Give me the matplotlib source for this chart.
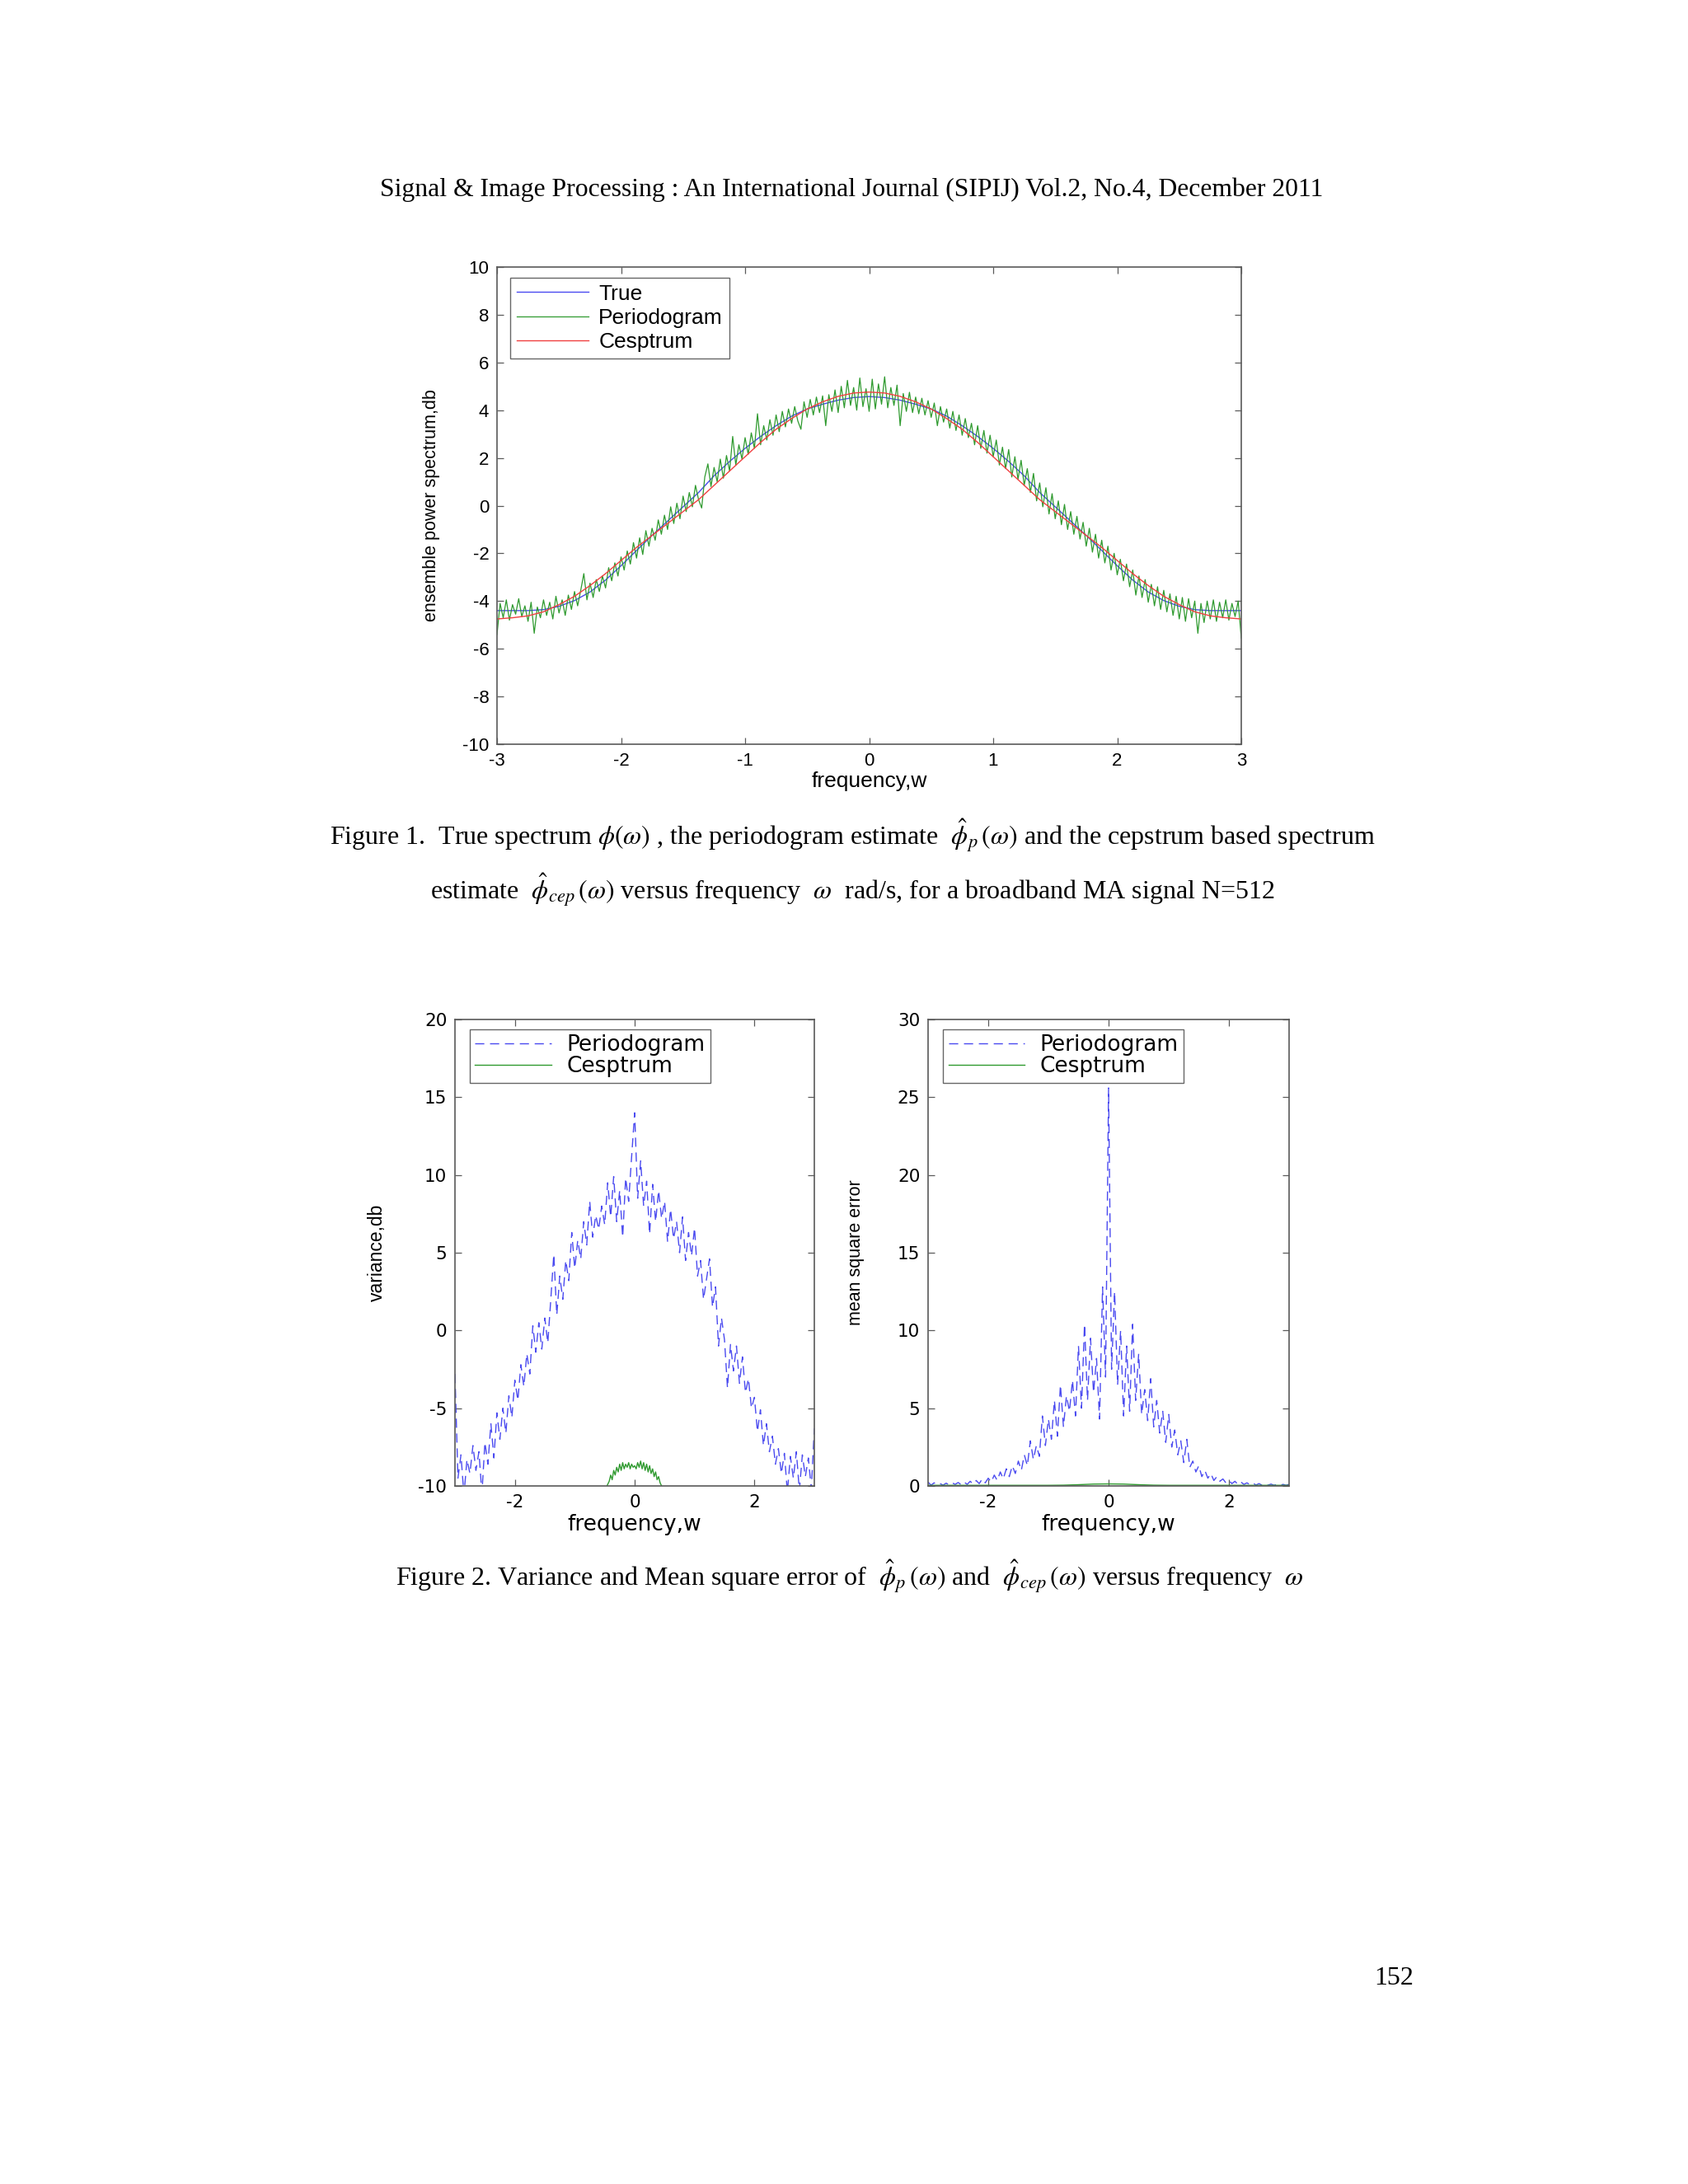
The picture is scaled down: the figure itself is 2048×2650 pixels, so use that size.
import matplotlib
matplotlib.use("Agg")
import matplotlib.pyplot as plt
import numpy as np

plt.rcParams['mathtext.fontset'] = 'stix'
plt.rcParams['axes.unicode_minus'] = False

# ---- Figure 1: ensemble power spectrum ----
w_smooth = np.linspace(-3, 3, 49)
true_db = [-4.40, -4.40, -4.40, -4.36, -4.22, -3.98, -3.62, -3.12, -2.52, -1.88,
           -1.25, -0.65, -0.05, 0.55, 1.25, 1.85, 2.40, 2.90, 3.35, 3.75,
           4.05, 4.25, 4.42, 4.53, 4.57, 4.53, 4.42, 4.25, 4.05, 3.75,
           3.35, 2.90, 2.40, 1.85, 1.25, 0.55, -0.05, -0.65, -1.25, -1.88,
           -2.52, -3.12, -3.62, -3.98, -4.22, -4.36, -4.40, -4.40, -4.40]
cep_db = [-4.75, -4.70, -4.62, -4.45, -4.15, -3.80, -3.35, -2.85, -2.30, -1.75,
          -1.25, -0.75, -0.25, 0.25, 0.85, 1.45, 2.05, 2.65, 3.20, 3.65,
          4.05, 4.35, 4.58, 4.72, 4.76, 4.72, 4.58, 4.35, 4.05, 3.65,
          3.20, 2.65, 2.05, 1.45, 0.85, 0.25, -0.25, -0.75, -1.25, -1.75,
          -2.30, -2.85, -3.35, -3.80, -4.15, -4.45, -4.62, -4.70, -4.75]

w_per = np.linspace(-3, 3, 241)
per_db = [-5.40, -4.10, -4.70, -3.95, -4.80, -4.15, -4.55, -3.90, -4.65, -4.20,
          -4.85, -4.05, -5.35, -4.25, -4.70, -3.95, -4.60, -4.05, -4.75, -3.80,
          -4.50, -3.95, -4.60, -3.75, -4.35, -3.60, -4.20, -3.55, -2.85, -3.95,
          -3.25, -3.85, -3.10, -3.60, -2.95, -3.45, -2.60, -3.15, -2.40, -2.95,
          -2.15, -2.70, -1.90, -2.45, -1.55, -2.20, -1.35, -2.05, -1.05, -1.70,
          -0.95, -1.45, -0.60, -1.20, -0.40, -1.00, -0.05, -0.75, 0.10, -0.55,
          0.40, -0.25, 0.55, -0.05, 0.85, 0.25, -0.10, 1.20, 1.75, 0.80,
          1.60, 1.00, 1.95, 1.15, 2.10, 1.45, 2.90, 1.70, 2.55, 1.95,
          2.85, 2.15, 3.05, 2.40, 3.85, 2.55, 3.35, 2.75, 3.60, 2.95,
          3.80, 3.10, 3.95, 3.30, 4.05, 3.45, 4.15, 3.55, 3.20, 4.35,
          3.70, 4.45, 3.80, 4.55, 3.90, 4.60, 3.35, 4.65, 3.95, 4.85,
          3.90, 5.00, 4.10, 5.25, 4.20, 4.95, 4.00, 5.35, 4.15, 4.90,
          3.95, 5.30, 4.05, 5.10, 4.25, 5.40, 4.10, 4.95, 4.20, 5.05,
          3.35, 4.70, 3.95, 4.75, 3.90, 4.55, 3.85, 4.50, 3.80, 4.40,
          3.70, 4.30, 3.35, 4.15, 3.50, 4.05, 3.25, 3.95, 3.15, 3.80,
          2.95, 3.65, 2.85, 3.45, 2.55, 3.35, 2.40, 3.15, 2.20, 2.95,
          2.05, 2.75, 1.70, 2.45, 1.55, 2.35, 1.20, 2.05, 1.10, 1.90,
          0.85, 1.55, 0.55, 1.35, 0.20, 0.95, -0.05, 0.75, -0.35, 0.50,
          -0.55, 0.20, -0.80, 0.05, -1.00, -0.25, -1.20, -0.45, -1.40, -0.70,
          -1.70, -0.95, -1.95, -1.20, -2.20, -1.45, -2.40, -1.70, -2.70, -2.00,
          -2.90, -2.25, -3.15, -2.45, -3.40, -2.70, -3.75, -2.95, -3.85, -3.10,
          -4.05, -3.30, -4.20, -3.40, -4.35, -3.55, -4.45, -3.70, -4.60, -3.80,
          -4.75, -3.85, -4.85, -3.90, -4.70, -4.00, -5.35, -4.10, -4.90, -4.00,
          -4.75, -3.95, -4.85, -4.05, -4.70, -3.95, -4.80, -4.10, -4.65, -4.00,
          -5.55]

# ---- Figure 2: variance and mean square error ----
w_fine = np.linspace(-3, 3, 121)
var_per = [-2.8, -9.5, -8.0, -10.6, -8.3, -9.2, -7.4, -9.0, -7.8, -10.5,
           -7.2, -8.6, -6.0, -8.2, -5.3, -7.0, -5.0, -6.6, -4.2, -5.6,
           -3.2, -4.5, -2.2, -3.6, -1.5, -2.8, 0.3, -1.4, 0.5, -1.2,
           0.8, -0.8, 2.0, 4.9, 1.0, 3.5, 2.0, 4.5, 3.2, 6.3,
           4.0, 5.8, 4.6, 7.0, 5.5, 8.3, 6.0, 7.4, 6.5, 8.0,
           6.8, 9.5, 7.3, 9.9, 7.0, 9.0, 6.0, 9.8, 8.3, 11.2,
           14.0, 8.5, 10.9, 8.0, 9.6, 6.2, 9.4, 7.0, 9.0, 7.2,
           8.3, 5.7, 7.8, 5.9, 7.0, 5.0, 7.3, 4.5, 6.3, 4.8,
           6.6, 3.5, 4.5, 2.0, 3.3, 4.6, 1.5, 2.8, -1.0, 0.8,
           -0.6, -3.7, -0.9, -2.6, -1.0, -3.4, -1.7, -4.0, -3.1, -5.0,
           -4.3, -6.5, -5.1, -7.4, -6.0, -7.8, -6.8, -8.6, -7.6, -9.2,
           -7.9, -10.4, -8.1, -9.5, -7.8, -10.3, -8.0, -9.4, -8.2, -10.2,
           -6.3]
w_cepvar = np.linspace(-0.5, 0.5, 41)
var_cep = [-10.4, -10.1, -9.9, -9.7, -9.3, -9.6, -9.0, -9.3, -8.8, -9.1,
           -8.6, -9.0, -8.5, -8.9, -8.6, -8.8, -8.5, -8.9, -8.6, -8.8,
           -8.7, -8.9, -8.5, -8.8, -8.4, -8.9, -8.5, -9.0, -8.6, -9.1,
           -8.7, -9.2, -8.9, -9.4, -9.1, -9.6, -9.4, -9.8, -10.0, -10.2,
           -10.5]

mse_per = [0.25, 0.05, 0.20, 0.08, 0.15, 0.05, 0.18, 0.07, 0.20, 0.10,
           0.22, 0.08, 0.25, 0.10, 0.30, 0.12, 0.35, 0.15, 0.45, 0.20,
           0.50, 0.25, 0.70, 0.35, 0.90, 0.45, 1.10, 0.60, 1.30, 0.80,
           1.60, 1.00, 2.00, 1.30, 2.90, 1.70, 2.60, 1.90, 4.50, 2.60,
           4.30, 3.00, 5.50, 3.20, 6.50, 3.80, 5.80, 4.80, 6.80, 4.50,
           9.00, 5.00, 10.40, 5.50, 9.50, 6.00, 8.20, 4.30, 12.80, 7.00,
           25.60, 7.50, 12.50, 6.50, 10.00, 4.50, 9.00, 4.80, 10.40, 5.50,
           8.50, 4.60, 6.20, 4.20, 6.90, 3.80, 5.50, 3.40, 4.80, 2.80,
           4.60, 2.50, 3.60, 2.00, 2.90, 1.50, 3.00, 1.20, 1.60, 0.90,
           1.30, 0.60, 1.00, 0.50, 0.80, 0.35, 0.60, 0.30, 0.45, 0.20,
           0.35, 0.15, 0.30, 0.10, 0.25, 0.10, 0.20, 0.08, 0.18, 0.06,
           0.15, 0.05, 0.12, 0.05, 0.12, 0.04, 0.10, 0.04, 0.10, 0.04,
           0.10]
w_cepmse = np.linspace(-3, 3, 25)
mse_cep = [0.04, 0.04, 0.04, 0.04, 0.04, 0.04, 0.04, 0.04, 0.04, 0.05,
           0.08, 0.12, 0.13, 0.12, 0.08, 0.05, 0.04, 0.04, 0.04, 0.04,
           0.04, 0.04, 0.04, 0.04, 0.04]

BLUE = '#4a4af0'
GREEN = '#2f9a2f'
RED = '#f04040'
FRAME = '#5a5a5a'


def style_axes(ax, family, size):
    for s in ax.spines.values():
        s.set_color(FRAME)
        s.set_linewidth(1.2)
    ax.tick_params(direction='in', length=6, width=0.9, color=FRAME,
                   top=True, right=True, labelsize=size, pad=7)
    for lab in ax.get_xticklabels() + ax.get_yticklabels():
        lab.set_family(family)


def style_legend(leg):
    leg.get_frame().set_edgecolor('#404040')
    leg.get_frame().set_linewidth(1.0)


fig = plt.figure(figsize=(20.48, 26.5), dpi=100)

# top panel
ax1 = fig.add_axes([603 / 2048, 1 - 903 / 2650, 903 / 2048, 579 / 2650])
ax1.plot(w_smooth, true_db, color=BLUE, lw=1.0, label='True')
ax1.plot(w_per, per_db, color=GREEN, lw=0.9, label='Periodogram')
ax1.plot(w_smooth, cep_db, color=RED, lw=1.0, label='Cesptrum')
ax1.set_xlim(-3, 3)
ax1.set_ylim(-10, 10)
ax1.set_xticks([-3, -2, -1, 0, 1, 2, 3])
ax1.set_yticks(range(-10, 11, 2))
style_axes(ax1, 'Liberation Sans', 16)
ax1.set_xlabel('frequency,w', family='Liberation Sans', fontsize=19, labelpad=2)
ax1.set_ylabel('ensemble power spectrum,db', family='Liberation Sans', fontsize=15.5)
ax1.yaxis.set_label_coords(-0.076, 0.5)
leg = ax1.legend(loc='upper left', bbox_to_anchor=(0.018, 0.978), borderaxespad=0,
                 prop={'family': 'Liberation Sans', 'size': 19}, fancybox=False,
                 handlelength=3.3, handletextpad=0.45, borderpad=0.3, labelspacing=0.2)
style_legend(leg)

# bottom left: variance
ax2 = fig.add_axes([552 / 2048, 1 - 1803 / 2650, 436 / 2048, 566 / 2650])
ax2.plot(w_fine, var_per, color=BLUE, lw=1.0, ls=(0, (8, 5)), label='Periodogram')
ax2.plot(w_cepvar, var_cep, color=GREEN, lw=1.0, label='Cesptrum')
ax2.set_xlim(-3, 3)
ax2.set_ylim(-10, 20)
ax2.set_xticks([-2, 0, 2])
ax2.set_yticks(range(-10, 21, 5))
style_axes(ax2, 'DejaVu Sans', 15.5)
ax2.set_xlabel('frequency,w', family='DejaVu Sans', fontsize=19, labelpad=3)
ax2.set_ylabel('variance,db', family='Liberation Sans', fontsize=16.5)
ax2.yaxis.set_label_coords(-0.19, 0.5)
leg2 = ax2.legend(loc='upper left', bbox_to_anchor=(0.041, 0.979), borderaxespad=0,
                  prop={'family': 'DejaVu Sans', 'size': 19}, fancybox=False,
                  handlelength=3.5, handletextpad=0.7, borderpad=0.25, labelspacing=0.0)
style_legend(leg2)

# bottom right: mean square error
ax3 = fig.add_axes([1126 / 2048, 1 - 1803 / 2650, 438 / 2048, 566 / 2650])
ax3.plot(w_fine, mse_per, color=BLUE, lw=1.0, ls=(0, (8, 5)), label='Periodogram')
ax3.plot(w_cepmse, mse_cep, color=GREEN, lw=1.0, label='Cesptrum')
ax3.set_xlim(-3, 3)
ax3.set_ylim(0, 30)
ax3.set_xticks([-2, 0, 2])
ax3.set_yticks(range(0, 31, 5))
style_axes(ax3, 'DejaVu Sans', 15.5)
ax3.set_xlabel('frequency,w', family='DejaVu Sans', fontsize=19, labelpad=3)
ax3.set_ylabel('mean square error', family='Liberation Sans', fontsize=15.5)
ax3.yaxis.set_label_coords(-0.175, 0.5)
leg3 = ax3.legend(loc='upper left', bbox_to_anchor=(0.041, 0.979), borderaxespad=0,
                  prop={'family': 'DejaVu Sans', 'size': 19}, fancybox=False,
                  handlelength=3.5, handletextpad=0.7, borderpad=0.25, labelspacing=0.0)
style_legend(leg3)

# page text
serif = 'Liberation Serif'
fs = 23
fig.text(1033 / 2048, 1 - 230 / 2650,
         'Signal & Image Processing : An International Journal (SIPIJ) Vol.2, No.4, December 2011',
         ha='center', va='center', family=serif, fontsize=22.8)
fig.text(1034 / 2048, 1 - 1014 / 2650,
         r'Figure 1.  True spectrum $\phi(\omega)$ , the periodogram estimate  $\hat{\phi}_p\,(\omega)$'
         r' and the cepstrum based spectrum',
         ha='center', va='center', family=serif, fontsize=fs)
fig.text(1034 / 2048, 1 - 1080 / 2650,
         r'estimate  $\hat{\phi}_{cep}\,(\omega)$ versus frequency  $\omega$  rad/s, for a broadband MA signal N=512',
         ha='center', va='center', family=serif, fontsize=fs)
fig.text(1031 / 2048, 1 - 1913 / 2650,
         r'Figure 2. Variance and Mean square error of  $\hat{\phi}_p\,(\omega)$ and  $\hat{\phi}_{cep}\,(\omega)$'
         r' versus frequency  $\omega$',
         ha='center', va='center', family=serif, fontsize=fs)
fig.text(1715 / 2048, 1 - 2401 / 2650, '152', ha='right', va='center', family=serif, fontsize=fs)

fig.savefig('out.png', dpi=100, facecolor='white')
